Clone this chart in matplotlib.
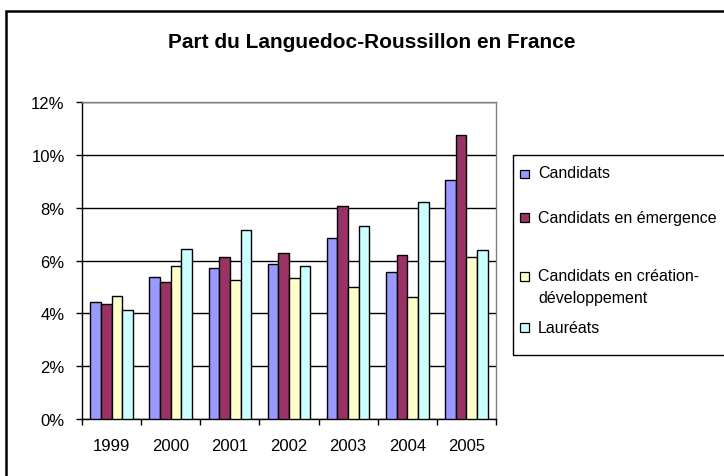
import matplotlib
matplotlib.use("Agg")
import matplotlib.pyplot as plt
from matplotlib.patches import Rectangle
from matplotlib.ticker import PercentFormatter
import numpy as np

plt.rcParams['font.family'] = ['Liberation Sans', 'DejaVu Sans']

# Data (share in %)
years = ['1999', '2000', '2001', '2002', '2003', '2004', '2005']
series = ['Candidats', 'Candidats en émergence',
          'Candidats en création-\ndéveloppement', 'Lauréats']
candidats = [4.42, 5.37, 5.73, 5.85, 6.87, 5.56, 9.03]
emergence = [4.36, 5.20, 6.15, 6.28, 8.07, 6.21, 10.76]
creation = [4.65, 5.80, 5.25, 5.32, 5.01, 4.60, 6.15]
laureats = [4.12, 6.45, 7.17, 5.80, 7.29, 8.23, 6.39]
colors = ['#9999FF', '#993366', '#FFFFCC', '#CCFFFF']

W, H = 724, 477
fig = plt.figure(figsize=(W / 100, H / 100), dpi=100)

# plot area in pixel coords
left, right, top, bottom = 82, 496, 103, 420
ax = fig.add_axes([left / W, (H - bottom) / H,
                   (right - left) / W, (bottom - top) / H])

x = np.arange(len(years))
bw = 0.18
for i, vals in enumerate([candidats, emergence, creation, laureats]):
    ax.bar(x + (i - 1.5) * bw, vals, bw, color=colors[i],
           edgecolor='black', linewidth=1, zorder=3)

ax.set_xlim(-0.5, len(years) - 0.5)
ax.set_ylim(0, 12)
ax.set_yticks(np.arange(0, 13, 2))
ax.yaxis.set_major_formatter(PercentFormatter(decimals=0))
ax.yaxis.grid(True, color='black', linewidth=1)
ax.set_axisbelow(True)

# ticks between groups, labels centered
ax.set_xticks(np.arange(-0.5, len(years)))
ax.set_xticklabels([])
ax.set_xticks(x, minor=True)
ax.set_xticklabels(years, minor=True)
ax.tick_params(axis='x', which='major', length=4.5, width=1, direction='out')
ax.tick_params(axis='x', which='minor', length=0, pad=14, labelsize=12)
ax.tick_params(axis='y', length=4.5, width=1, direction='out', pad=8,
               labelsize=12)

for s in ['left', 'bottom']:
    ax.spines[s].set_color('black')
    ax.spines[s].set_linewidth(1)
for s in ['top', 'right']:
    ax.spines[s].set_color('#808080')
    ax.spines[s].set_linewidth(1)

fig.text(372 / W, 1 - 48 / H, 'Part du Languedoc-Roussillon en France',
         ha='center', va='baseline', fontsize=15, fontweight='bold')

# outer chart frame (cropped by the image edge)
fig.patches.append(Rectangle((6 / W, -0.1), 1.2, 1 - 12 / H + 0.1,
                             transform=fig.transFigure, fill=False,
                             edgecolor='black', linewidth=1.8))

# legend box
fig.patches.append(Rectangle((513 / W, 1 - 356 / H), 0.5, 200 / H,
                             transform=fig.transFigure, fill=False,
                             edgecolor='black', linewidth=1))
marker_y = [174.5, 218, 277, 328]
text_base = [178, 223, 281, 333]
for i, name in enumerate(series):
    yc = marker_y[i]
    fig.patches.append(Rectangle((520 / W, 1 - (yc + 4.5) / H), 8.5 / W,
                                 8.5 / H, transform=fig.transFigure,
                                 facecolor=colors[i], edgecolor='black',
                                 linewidth=0.9))
    # first line baseline placed explicitly, second line below it
    for j, line in enumerate(name.split('\n')):
        fig.text(538 / W, 1 - (text_base[i] + j * 22) / H, line,
                 ha='left', va='baseline', fontsize=11.5)

fig.savefig('out.png', dpi=100)
